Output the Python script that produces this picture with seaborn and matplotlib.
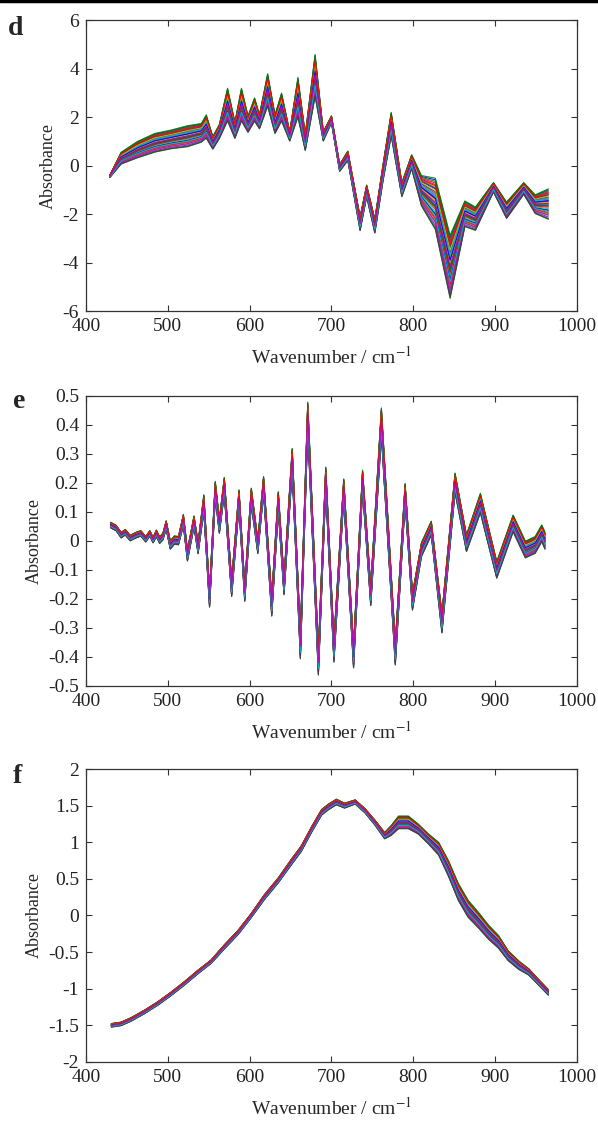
import numpy as np
import pandas as pd
import matplotlib
matplotlib.use('Agg')
import matplotlib.pyplot as plt
from matplotlib.lines import Line2D
import seaborn as sns

# --- spectra: band centre and half-width per wavenumber knot ---
wn_d = [429, 443, 463, 484, 504, 524, 541, 547, 555, 563, 573, 582, 590, 598, 606,
        612, 622, 631, 639, 649, 659, 668, 680, 690, 700, 710, 720, 735, 743, 753,
        763, 773, 786, 798, 810, 827, 845, 863, 876, 898, 914, 935, 949, 965]
mean_d = [-0.45, 0.3, 0.65, 0.93, 1.07, 1.2, 1.34, 1.6, 0.93, 1.4, 2.5, 1.45, 2.5, 1.7, 2.3,
          1.8, 3.1, 1.7, 2.4, 1.2, 2.8, 0.95, 3.7, 1.2, 1.9, -0.1, 0.4, -2.4, -1.05, -2.5,
          -0.3, 1.7, -1.0, 0.15, -1.05, -1.6, -4.2, -2.0, -2.2, -0.9, -1.85, -0.95, -1.6, -1.6]
hw_d = [0.05, 0.25, 0.35, 0.4, 0.4, 0.45, 0.4, 0.5, 0.27, 0.3, 0.7, 0.35, 0.7, 0.35, 0.5,
        0.3, 0.7, 0.4, 0.6, 0.2, 0.85, 0.35, 0.9, 0.2, 0.15, 0.15, 0.2, 0.3, 0.25, 0.3,
        0.35, 0.5, 0.3, 0.3, 0.65, 1.1, 1.35, 0.55, 0.5, 0.2, 0.35, 0.25, 0.4, 0.65]

wn_e = [430, 437, 443, 448, 454, 461, 467, 473, 478, 482, 486, 490, 494, 498, 503,
        508, 513, 519, 524, 532, 537, 544, 551, 558, 563, 569, 578, 587, 594, 602,
        610, 617, 627, 635, 642, 652, 662, 671, 684, 693, 703, 715, 727, 738, 748,
        761, 778, 790, 799, 810, 822, 835, 851, 865, 882, 902, 922, 937, 949, 957, 961]
mean_e = [0.055, 0.044, 0.02, 0.03, 0.01, 0.02, 0.026, 0.006, 0.026, 0.003, 0.026, 0.003, 0.015, 0.055, -0.014,
          0.003, 0.001, 0.072, -0.05, 0.067, -0.025, 0.13, -0.2, 0.176, 0.05, 0.19, -0.163, 0.147, -0.18, 0.153,
          -0.02, 0.193, -0.226, 0.136, -0.157, 0.28, -0.364, 0.43, -0.42, 0.216, -0.38, 0.18, -0.4, 0.21, -0.19,
          0.41, -0.39, 0.164, -0.21, -0.03, 0.044, -0.284, 0.2, -0.008, 0.13, -0.1, 0.06, -0.03, -0.014, 0.026, 0.0]
hw_e = [0.01, 0.01, 0.01, 0.01, 0.01, 0.01, 0.01, 0.01, 0.01, 0.01, 0.012, 0.012, 0.012, 0.015, 0.015,
        0.015, 0.015, 0.02, 0.02, 0.02, 0.02, 0.03, 0.03, 0.03, 0.025, 0.03, 0.03, 0.03, 0.03, 0.03,
        0.025, 0.03, 0.035, 0.035, 0.03, 0.04, 0.045, 0.05, 0.045, 0.04, 0.04, 0.035, 0.04, 0.035, 0.035,
        0.05, 0.04, 0.035, 0.03, 0.025, 0.025, 0.035, 0.035, 0.03, 0.035, 0.03, 0.03, 0.03, 0.03, 0.03, 0.03]

wn_f = [431, 443, 455, 471, 488, 504, 520, 537, 553, 569, 586, 602, 618, 635, 651,
        663, 676, 688, 696, 706, 716, 729, 741, 753, 765, 773, 782, 794, 806, 818,
        831, 843, 855, 867, 880, 892, 904, 916, 929, 941, 953, 965]
mean_f = [-1.5, -1.48, -1.42, -1.32, -1.2, -1.07, -0.93, -0.77, -0.63, -0.43, -0.23, 0.0, 0.25, 0.48, 0.73,
          0.91, 1.18, 1.41, 1.48, 1.55, 1.5, 1.55, 1.43, 1.27, 1.09, 1.16, 1.27, 1.27, 1.18, 1.05,
          0.91, 0.64, 0.32, 0.09, -0.07, -0.23, -0.36, -0.55, -0.68, -0.77, -0.91, -1.05]
hw_f = [0.025, 0.025, 0.025, 0.025, 0.025, 0.025, 0.025, 0.025, 0.025, 0.03, 0.03, 0.03, 0.035, 0.035, 0.04,
        0.04, 0.04, 0.04, 0.04, 0.04, 0.035, 0.03, 0.03, 0.035, 0.045, 0.07, 0.09, 0.09, 0.07, 0.07,
        0.09, 0.11, 0.12, 0.12, 0.11, 0.1, 0.09, 0.07, 0.06, 0.045, 0.04, 0.04]

# position of each sample inside the band (-1 = lower edge, 1 = upper edge)
sample_pos = [0.92, -0.35, 0.41, -0.88, 0.10, 0.67, -0.59, 0.25, -0.12, 0.80,
              -0.71, 0.33, -0.46, 0.05, 0.58, -0.95, 0.19, -0.27, 0.74, -0.63,
              0.47, -0.05, 0.86, -0.52, 0.29, -0.80, 0.13, 0.62, -0.39, 0.98,
              -0.18, 0.38, -0.67, 0.53, -0.91, 0.22, -0.08, 0.70, -0.44, 0.02]

# old MATLAB colour order b, g, r, c, m, y, k
line_colors = ['#0000ff', '#008000', '#ff0000', '#00bfbf', '#bf00bf', '#bfbf00', '#404040']

panels = [
    ('d', wn_d, mean_d, hw_d, [-6, -4, -2, 0, 2, 4, 6]),
    ('e', wn_e, mean_e, hw_e, [-0.5, -0.4, -0.3, -0.2, -0.1, 0, 0.1, 0.2, 0.3, 0.4, 0.5]),
    ('f', wn_f, mean_f, hw_f, [-2, -1.5, -1, -0.5, 0, 0.5, 1, 1.5, 2]),
]
xticks = [400, 500, 600, 700, 800, 900, 1000]

sns.set_style('ticks')
plt.rcParams.update({
    'font.family': ['Liberation Serif', 'DejaVu Serif'],
    'mathtext.fontset': 'stix',
    'axes.unicode_minus': False,
    'font.size': 14,
    'axes.edgecolor': '#333333',
    'axes.linewidth': 0.9,
    'xtick.color': '#333333',
    'ytick.color': '#333333',
    'xtick.labelcolor': '#222222',
    'ytick.labelcolor': '#222222',
    'lines.solid_joinstyle': 'round',
})

fig = plt.figure(figsize=(5.98, 11.24), dpi=100)
fig.patch.set_facecolor('white')

# axes boxes in figure fractions (left, bottom, width, height)
boxes = [(0.1438, 0.7233, 0.821, 0.2589),
         (0.1438, 0.3897, 0.821, 0.2580),
         (0.1438, 0.0552, 0.821, 0.2606)]
label_xy = [(0.013, 0.969), (0.022, 0.637), (0.022, 0.303)]

n_colors = len(line_colors)
for (tag, wn, mean, hw, yticks), box, lxy in zip(panels, boxes, label_xy):
    ax = fig.add_axes(box)
    rows = []
    for i, p in enumerate(sample_pos):
        for w, m, h in zip(wn, mean, hw):
            rows.append({'wn': w, 'absorbance': m + p * h, 'sample': i})
    df = pd.DataFrame(rows)
    sns.lineplot(data=df, x='wn', y='absorbance', hue='sample',
                 palette=[line_colors[i % n_colors] for i in range(len(sample_pos))],
                 estimator=None, sort=False, legend=False, lw=0.8, alpha=0.9, ax=ax)
    ax.set_xlim(400, 1000)
    ax.set_ylim(yticks[0], yticks[-1])
    ax.set_xticks(xticks)
    ax.set_xticklabels([str(v) for v in xticks])
    ax.set_yticks(yticks)
    ax.set_yticklabels([f'{v:g}' for v in yticks])
    ax.tick_params(direction='in', top=True, right=True, length=4, width=0.8,
                   labelsize=14, pad=5)
    ax.set_xlabel(r'Wavenumber / cm$^{-1}$', fontsize=14, labelpad=8)
    ax.set_ylabel('Absorbance', fontsize=13, labelpad=4)
    fig.text(lxy[0], lxy[1], tag, fontsize=20, fontweight='bold', va='baseline', ha='left')

# black rule along the top edge
fig.add_artist(Line2D([0, 1], [0.9988, 0.9988], color='black', lw=2.5, transform=fig.transFigure))

fig.savefig('out.png', dpi=100, facecolor='white')
